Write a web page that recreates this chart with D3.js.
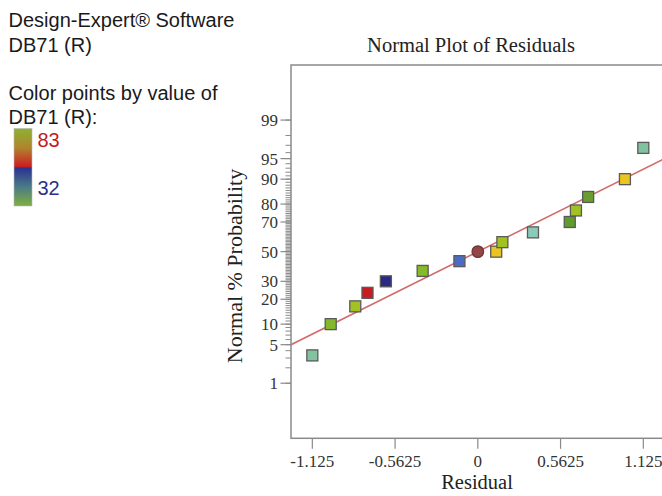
<!DOCTYPE html>
<html><head><meta charset="utf-8">
<script src="https://cdn.jsdelivr.net/npm/d3@7"></script>
<style>body{margin:0;background:#fff;}svg{display:block;}</style>
</head><body>
<script>
// ---- data ----
const residuals = [-1.125, -1.0, -0.833, -0.75, -0.625, -0.375, -0.125, 0.125, 0.167, 0.375, 0.625, 0.667, 0.75, 1.0, 1.125];
const probabilities = [3.33, 10, 16.67, 23.33, 30, 36.67, 43.33, 50, 56.67, 63.33, 70, 76.67, 83.33, 90, 96.67];
const pointColors = ["#82c29e", "#82b82a", "#a2c224", "#c81c22", "#2a2a86", "#86ba28", "#4a6cc4", "#eac420", "#a2c224", "#8ccab8", "#5e9c2c", "#a2c224", "#6a9c30", "#eac420", "#82c29e"];
const xTicks = [-1.125, -0.5625, 0, 0.5625, 1.125];
const xTickLabels = ["-1.125", "-0.5625", "0", "0.5625", "1.125"];
const yMajorTicks = [1, 5, 10, 20, 30, 50, 70, 80, 90, 95, 99];
const yMinorTicks = d3.range(1, 100);
const centerPoint = {r: 0, p: 50};
const lineSigma = 0.772;
const legendMax = 83, legendMin = 32;

// ---- layout ----
const W = 662, H = 496;
const svg = d3.select("body").append("svg").attr("width", W).attr("height", H);
const normInv = p => {
  const a=[-3.969683028665376e+01,2.209460984245205e+02,-2.759285104469687e+02,1.383577518672690e+02,-3.066479806614716e+01,2.506628277459239e+00];
  const b=[-5.447609879822406e+01,1.615858368580409e+02,-1.556989798598866e+02,6.680131188771972e+01,-1.328068155288572e+01];
  const c=[-7.784894002430293e-03,-3.223964580411365e-01,-2.400758277161838e+00,-2.549671010229247e+00,4.374664141464968e+00,2.938163982698783e+00];
  const d=[7.784695709041462e-03,3.224671290700398e-01,2.445134137142996e+00,3.754408661907416e+00];
  const pl=0.02425;
  let q,r;
  if(p<pl){q=Math.sqrt(-2*Math.log(p));return (((((c[0]*q+c[1])*q+c[2])*q+c[3])*q+c[4])*q+c[5])/((((d[0]*q+d[1])*q+d[2])*q+d[3])*q+1);}
  if(p<=1-pl){q=p-0.5;r=q*q;return (((((a[0]*r+a[1])*r+a[2])*r+a[3])*r+a[4])*r+a[5])*q/(((((b[0]*r+b[1])*r+b[2])*r+b[3])*r+b[4])*r+1);}
  q=Math.sqrt(-2*Math.log(1-p));return -(((((c[0]*q+c[1])*q+c[2])*q+c[3])*q+c[4])*q+c[5])/((((d[0]*q+d[1])*q+d[2])*q+d[3])*q+1);
};

const pLeft = 291, pTop = 65, pBottom = 438.3;
const x = d3.scaleLinear().domain([-1.27, 1.27]).range([pLeft, pLeft + 2.54 * 147.1]);
const yz = d3.scaleLinear().domain([-3.3, 3.3]).range([pBottom, pTop]);
const y = p => yz(normInv(p / 100));

const serif = "'Liberation Serif', 'Times New Roman', serif";
const sans = "'Liberation Sans', Arial, sans-serif";

// frame
svg.append("rect").attr("x", pLeft).attr("y", pTop).attr("width", x.range()[1] - pLeft + 20).attr("height", pBottom - pTop)
  .attr("fill", "none").attr("stroke", "#8a8a8a").attr("stroke-width", 1.5);

// y ticks
const gy = svg.append("g").attr("transform", `translate(${pLeft},0)`);
gy.selectAll("line.minor").data(yMinorTicks).join("line").attr("class", "minor")
  .attr("x1", -5.5).attr("x2", 0).attr("y1", d => y(d)).attr("y2", d => y(d))
  .attr("stroke", "#8a8a8a").attr("stroke-width", 1);
gy.selectAll("line.major").data(yMajorTicks).join("line").attr("class", "major")
  .attr("x1", -10.5).attr("x2", 0).attr("y1", d => y(d)).attr("y2", d => y(d))
  .attr("stroke", "#8a8a8a").attr("stroke-width", 1.2);
gy.selectAll("text").data(yMajorTicks).join("text")
  .attr("x", -13).attr("y", d => y(d)).attr("dy", "0.35em").attr("text-anchor", "end")
  .attr("font-family", serif).attr("font-size", 17).attr("fill", "#333").text(d => d);

// x ticks
const gx = svg.append("g").attr("transform", `translate(0,${pBottom})`);
gx.selectAll("line").data(xTicks).join("line")
  .attr("x1", d => x(d)).attr("x2", d => x(d)).attr("y1", 0).attr("y2", 10.5)
  .attr("stroke", "#8a8a8a").attr("stroke-width", 1.2);
gx.selectAll("text").data(xTicks).join("text")
  .attr("x", d => x(d)).attr("y", 28.5).attr("text-anchor", "middle")
  .attr("font-family", serif).attr("font-size", 17).attr("fill", "#333").text((d, i) => xTickLabels[i]);

// axis titles
svg.append("text").attr("x", 471).attr("y", 52).attr("text-anchor", "middle")
  .attr("font-family", serif).attr("font-size", 20.5).attr("fill", "#222").text("Normal Plot of Residuals");
svg.append("text").attr("x", 477).attr("y", 489).attr("text-anchor", "middle")
  .attr("font-family", serif).attr("font-size", 20.5).attr("fill", "#222").text("Residual");
svg.append("text").attr("transform", "translate(242,266) rotate(-90)").attr("text-anchor", "middle")
  .attr("font-family", serif).attr("font-size", 22).attr("fill", "#222").text("Normal % Probability");

// reference line
svg.append("clipPath").attr("id", "clip").append("rect")
  .attr("x", pLeft).attr("y", pTop).attr("width", W - pLeft).attr("height", pBottom - pTop);
const lx = x.domain();
svg.append("line").attr("clip-path", "url(#clip)")
  .attr("x1", x(lx[0])).attr("y1", yz(lx[0] / lineSigma))
  .attr("x2", x(lx[1])).attr("y2", yz(lx[1] / lineSigma))
  .attr("stroke", "#d46a6a").attr("stroke-width", 1.6);

// points
const s = 11;
const pts = residuals.map((r, i) => ({r, p: probabilities[i], c: pointColors[i]}));
svg.append("g").selectAll("rect").data(pts).join("rect")
  .attr("x", d => x(d.r) - s / 2).attr("y", d => y(d.p) - s / 2)
  .attr("width", s).attr("height", s)
  .attr("fill", d => d.c).attr("stroke", "#5a5a5a").attr("stroke-width", 1.3);
svg.append("circle").attr("cx", x(centerPoint.r)).attr("cy", y(centerPoint.p)).attr("r", 5.8)
  .attr("fill", "#944646").attr("stroke", "#6a3434").attr("stroke-width", 1.2);

// legend text
const lt = [["Design-Expert® Software", 26.5], ["DB71 (R)", 51.5], ["Color points by value of", 99.5], ["DB71 (R):", 124]];
svg.append("g").selectAll("text").data(lt).join("text")
  .attr("x", 8.5).attr("y", d => d[1]).attr("font-family", sans).attr("font-size", 20).attr("fill", "#1a1a1a").text(d => d[0]);

// color bar
const defs = svg.append("defs");
const gr = defs.append("linearGradient").attr("id", "cb").attr("x1", 0).attr("y1", 0).attr("x2", 0).attr("y2", 1);
[["0%", "#8cb232"], ["25%", "#b0842e"], ["49%", "#cc1e22"], ["51%", "#2a3290"], ["75%", "#4a7a88"], ["100%", "#7eb03e"]]
  .forEach(([o, c]) => gr.append("stop").attr("offset", o).attr("stop-color", c));
svg.append("rect").attr("x", 14).attr("y", 128.5).attr("width", 18).attr("height", 77.5)
  .attr("fill", "url(#cb)").attr("stroke", "#b8b8b8").attr("stroke-width", 0.6);
svg.append("text").attr("x", 37.5).attr("y", 147).attr("font-family", sans).attr("font-size", 20).attr("fill", "#c01c1c").text(legendMax);
svg.append("text").attr("x", 37.5).attr("y", 195).attr("font-family", sans).attr("font-size", 20).attr("fill", "#2e2e8a").text(legendMin);
</script>
</body></html>
